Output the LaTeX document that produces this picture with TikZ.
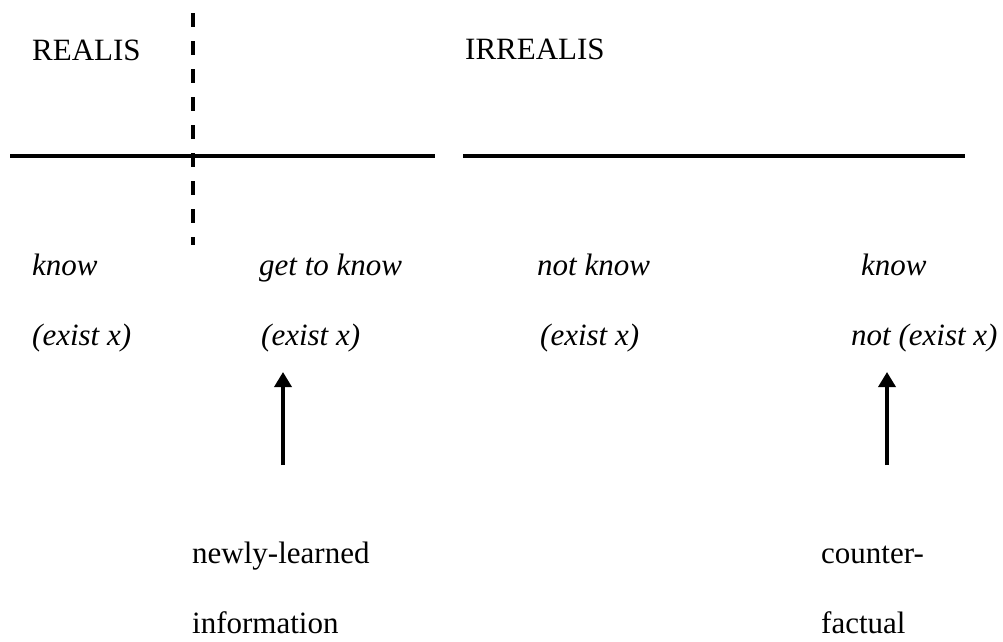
\documentclass[tikz,border=0pt]{standalone}
\usepackage{fontspec}
\setmainfont{Liberation Serif}
\usetikzlibrary{arrows.meta}
\begin{document}
\begin{tikzpicture}[x=1pt,y=-1pt,
  lbl/.style={anchor=base west,inner sep=0pt,font=\fontsize{31}{37}\selectfont},
  ilbl/.style={lbl,font=\fontsize{31}{37}\selectfont\itshape},
  axis/.style={line width=4pt},
  divider/.style={line width=4.5pt,dash pattern=on 14pt off 14pt},
  uparrow/.style={line width=3.5pt,-{Triangle[width=17pt,length=15pt]}}]
\useasboundingbox (0,0) rectangle (1003,641);
% headers
\node[lbl] (realis) at (32,60) {REALIS};
\node[lbl] (irrealis) at (465,59) {IRREALIS};
% axes
\coordinate (l1a) at (10,156);
\coordinate (l1b) at (435,156);
\coordinate (l2a) at (463,156);
\coordinate (l2b) at (965,156);
\draw[axis] (l1a) -- (l1b);
\draw[axis] (l2a) -- (l2b);
% dashed divider
\coordinate (da) at (193,13);
\coordinate (db) at (193,245);
\draw[divider] (da) -- (db);
% row 1
\node[ilbl] (k1) at (32,275) {know};
\node[ilbl] (k2) at (259,275) {get to know};
\node[ilbl] (k3) at (537,275) {not know};
\node[ilbl] (k4) at (861,275) {know};
% row 2
\node[ilbl] (e1) at (32,345) {(exist x)};
\node[ilbl] (e2) at (261,345) {(exist x)};
\node[ilbl] (e3) at (540,345) {(exist x)};
\node[ilbl] (e4) at (851,345) {not (exist x)};
% arrows
\coordinate (a1s) at (283,465);
\coordinate (a1t) at (283,372);
\coordinate (a2s) at (887,465);
\coordinate (a2t) at (887,372);
\draw[uparrow] (a1s) -- (a1t);
\draw[uparrow] (a2s) -- (a2t);
% bottom labels
\node[lbl] (n1) at (192,563) {newly-learned};
\node[lbl] (n2) at (192,633) {information};
\node[lbl] (c1) at (821,563) {counter-};
\node[lbl] (c2) at (821,633) {factual};
\end{tikzpicture}
\end{document}
